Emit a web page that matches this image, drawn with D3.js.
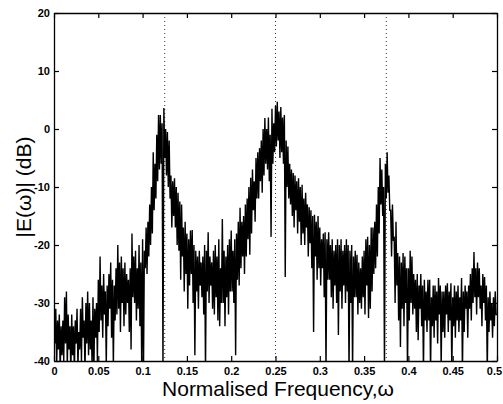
<!DOCTYPE html>
<html>
<head>
<meta charset="utf-8">
<script src="https://cdn.jsdelivr.net/npm/d3@7"></script>
<style>
  body { margin: 0; background: #fff; }
  .tick text { font-family: "Liberation Sans", Arial, sans-serif; font-weight: bold; font-size: 11px; }
</style>
</head>
<body>
<svg id="svg1" width="503" height="404"></svg>
<script>
  // spectrum |E(w)| in dB, sampled every 0.001 of normalised frequency
  const step = 0.001;
  const magDb = [
    -30, -37, -31, -41, -33, -38, -32, -42, -34, -39,
    -33, -40, -29, -37, -28, -41, -32, -38, -34, -42,
    -32, -39, -34, -42, -33, -37, -31, -41, -35, -38,
    -31, -40, -29, -36, -33, -42, -30, -37, -28, -39,
    -30, -38, -33, -41, -29, -42, -31, -36, -30, -40,
    -26, -35, -22, -33, -27, -36, -25, -32, -28, -41,
    -27, -34, -25, -31, -23, -36, -26, -41, -27, -33,
    -24, -32, -20, -31, -23, -35, -22, -30, -24, -34,
    -23, -32, -25, -30, -26, -35, -24, -38, -18, -29,
    -22, -30, -21, -33, -24, -31, -20, -34, -23, -41,
    -19, -42, -21, -24, -17, -25, -16, -22, -13, -20,
    -10, -18, -4, -14, -6, -12, -1, -9, 2.4, -7,
    2.4, -6, 1, -42, 3.6, -5, 0, -8, -0.5, -10,
    -2, -12, -8, -17, -9, -15, -8.5, -17, -10, -20,
    -11, -21, -12.5, -26, -13, -22, -17, -28, -16, -25,
    -18, -31, -19, -27, -17.5, -25, -17.4, -30, -20, -39,
    -21, -28, -22, -31, -21, -27, -23, -29, -22, -32,
    -20, -42, -21, -28, -17.8, -30, -22, -27, -23, -31,
    -21, -32, -20, -29, -22, -33, -19, -34, -24, -30,
    -15.5, -30, -21, -34, -22, -29, -20, -32, -19, -28,
    -17.5, -28, -21, -30, -19, -39, -18, -26, -16, -27,
    -13.6, -24, -16, -22, -15, -25, -13, -22, -12, -19,
    -10, -21.7, -8.4, -18, -7, -14, -9, -16, -5, -12,
    -4, -12, -3.3, -9, -2, -11, 0, -8, 1.9, -6,
    0, -7, 2, -9, -1, -18.6, 3.5, -6, 1, -4,
    4, -3, 4.7, -2, 3, -5, 3.8, -4, 2, -6,
    2.4, -25.5, -2, -10, -3, -12, -6, -13, -7, -15,
    -7.6, -17, -8, -14, -9, -18, -8.5, -16, -10, -20,
    -9.6, -18, -12, -20, -11, -17, -13, -22, -13.5, -19.7,
    -14, -24, -15, -35, -14.8, -22, -16, -26, -15, -24,
    -17, -27, -19, -24, -18, -29, -17.8, -42, -19, -26,
    -17.8, -26, -20, -29, -19, -31, -21, -27, -20, -30,
    -19, -35.5, -20, -28, -19, -31, -21, -27, -20, -30,
    -19, -28, -20, -42, -21, -30, -20, -42, -22, -29,
    -21, -29, -21.7, -32, -23, -30, -24, -31, -22, -29,
    -21, -32, -19, -27, -18.6, -32.6, -20, -31, -17, -28,
    -17, -25, -16, -24, -13, -22, -10, -18, -5, -13,
    -7, -15, -10, -42, -6, -12, -4, -11, -8, -14,
    -14, -22, -13, -19, -18.8, -30, -16, -27, -21.4, -33,
    -22, -37.6, -23, -31, -21.4, -34, -22, -30, -24, -42,
    -24, -33, -21, -30, -22, -32, -25, -31, -26, -35,
    -25, -36.4, -27, -31, -25, -34, -27, -42, -26, -33,
    -28, -35, -26, -33, -26, -42, -29, -34, -27, -36,
    -27, -33, -28, -37, -25.7, -32, -27, -41, -28, -35,
    -28, -36, -27, -32, -26.6, -35, -28, -33, -26.6, -42,
    -29, -34, -27, -36, -28, -33, -27, -35, -29, -33,
    -25.7, -42, -28, -35, -27, -31, -28, -36, -27, -31,
    -25, -33, -24, -30, -21.2, -29, -24, -32, -23, -29,
    -24, -31, -27, -34, -25, -30, -25.5, -33, -27, -42,
    -29, -35, -28, -33, -30, -36, -29, -34, -28, -32,
    -32
  ];
  const markerFreqs = [0.125, 0.25, 0.375];
  const xTicks = [0, 0.05, 0.1, 0.15, 0.2, 0.25, 0.3, 0.35, 0.4, 0.45, 0.5];
  const yTicks = [-40, -30, -20, -10, 0, 10, 20];

  const sample = magDb.map((v, i) => ({ f: i * step, db: v }));

  const svg = d3.select('#svg1');
  const mLeft = 54, mTop = 13, mRight = 497, mBottom = 361;
  const width = mRight - mLeft;
  const height = mBottom - mTop;

  const chart = svg.append('g')
    .attr('transform', `translate(${mLeft}, ${mTop})`);

  const xScale = d3.scaleLinear().domain([0, 0.5]).range([0, width]);
  const yScale = d3.scaleLinear().domain([-40, 20]).range([height, 0]);

  chart.append('clipPath').attr('id', 'clip')
    .append('rect').attr('width', width).attr('height', height);

  // dotted markers
  chart.selectAll('.marker')
    .data(markerFreqs)
    .enter()
    .append('line')
    .attr('x1', (d) => xScale(d)).attr('x2', (d) => xScale(d))
    .attr('y1', 0).attr('y2', height)
    .attr('stroke', '#333')
    .attr('stroke-width', 1)
    .attr('stroke-dasharray', '1,3');

  const line = d3.line()
    .x((d) => xScale(d.f))
    .y((d) => yScale(d.db));

  chart.append('path')
    .datum(sample)
    .attr('clip-path', 'url(#clip)')
    .attr('fill', 'none')
    .attr('stroke', '#000')
    .attr('stroke-width', 1.4)
    .attr('d', line);

  // axes, ticks pointing inward, mirrored on top/right
  const xAxis = chart.append('g')
    .attr('transform', `translate(0, ${height})`)
    .call(d3.axisBottom(xScale).tickValues(xTicks).tickSizeInner(-5).tickSizeOuter(0).tickPadding(6)
      .tickFormat((d) => String(d)));
  xAxis.selectAll('.tick text').filter((d) => d === 0.5).attr('dx', -3);

  chart.append('g')
    .call(d3.axisLeft(yScale).tickValues(yTicks).tickSizeInner(-5).tickSizeOuter(0).tickPadding(4)
      .tickFormat((d) => d));

  chart.append('g')
    .call(d3.axisTop(xScale).tickValues(xTicks).tickSizeInner(-5).tickSizeOuter(0).tickFormat(''));

  chart.append('g')
    .attr('transform', `translate(${width}, 0)`)
    .call(d3.axisRight(yScale).tickValues(yTicks).tickSizeInner(-5).tickSizeOuter(0).tickFormat(''));

  svg.selectAll('.domain').attr('stroke', '#000').attr('stroke-width', 1.3);
  svg.selectAll('.tick line').attr('stroke', '#000').attr('stroke-width', 1.2);

  svg.append('text')
    .attr('x', 278)
    .attr('y', 396)
    .attr('text-anchor', 'middle')
    .attr('font-family', '"Liberation Sans", Arial, sans-serif')
    .attr('font-size', '21px')
    .text('Normalised Frequency,ω');

  svg.append('text')
    .attr('transform', 'translate(31, 187) rotate(-90)')
    .attr('text-anchor', 'middle')
    .attr('font-family', '"Liberation Sans", Arial, sans-serif')
    .attr('font-size', '21px')
    .text('|E(ω)| (dB)');
</script>
</body>
</html>
